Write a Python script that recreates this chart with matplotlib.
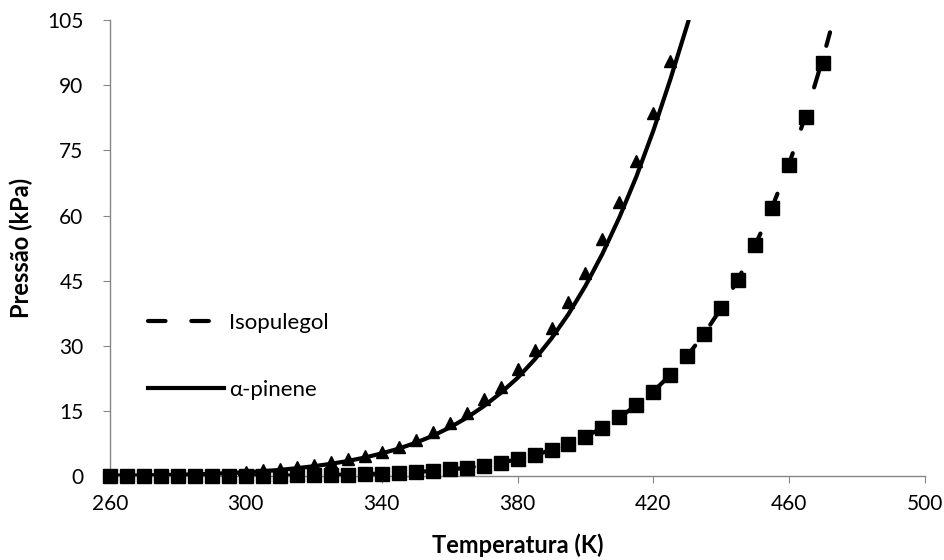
#!/usr/bin/env python3
"""Vapour pressure curves: Isopulegol and alpha-pinene."""
import matplotlib
matplotlib.use('Agg')
import matplotlib.pyplot as plt
import numpy as np

plt.rcParams.update({
    'font.family': ['Lato', 'DejaVu Sans'], 'font.size': 15,
})

# experimental points (K, kPa)
T_iso = np.arange(260, 471, 5)
P_iso = [0.003, 0.005, 0.007, 0.01, 0.015, 0.02, 0.03, 0.04, 0.05, 0.07,
         0.1, 0.13, 0.18, 0.24, 0.32, 0.42, 0.55, 0.7, 0.9, 1.2,
         1.5, 1.9, 2.4, 3.0, 3.9, 4.8, 6.0, 7.4, 9.0, 11.1,
         13.6, 16.3, 19.4, 23.3, 27.6, 32.7, 38.6, 45.2, 53.1, 61.7,
         71.6, 82.7, 95.2]

T_pin = np.arange(300, 426, 5)
P_pin = [1.0, 1.3, 1.65, 2.05, 2.55, 3.15, 3.9, 4.7, 5.6, 6.7,
         8.3, 10.2, 12.1, 14.4, 17.7, 20.6, 24.7, 29.1, 34.2, 40.1,
         46.8, 54.5, 63.2, 72.6, 83.6, 95.6]

# model curves
T_iso_fit = list(range(260, 471, 5)) + [472]
P_iso_fit = [0.003, 0.005, 0.007, 0.01, 0.015, 0.02, 0.03, 0.04, 0.05, 0.07,
             0.1, 0.13, 0.18, 0.24, 0.32, 0.42, 0.55, 0.7, 0.92, 1.18,
             1.5, 1.9, 2.4, 3.05, 3.85, 4.8, 6.0, 7.4, 9.1, 11.1,
             13.5, 16.3, 19.5, 23.3, 27.7, 32.8, 38.7, 45.4, 53.2, 62.0,
             72.0, 83.5, 96.5, 102.2]

T_pin_fit = np.arange(260, 436, 5)
P_pin_fit = [0.08, 0.11, 0.15, 0.21, 0.29, 0.38, 0.5, 0.66, 0.85, 1.1,
             1.4, 1.8, 2.25, 2.8, 3.45, 4.25, 5.2, 6.3, 7.65, 9.25,
             11.15, 13.4, 16.05, 19.1, 22.6, 26.8, 31.7, 37.3, 43.8, 51.2,
             59.6, 69.0, 79.6, 91.4, 104.0, 117.5]

fig = plt.figure(figsize=(9.44, 5.6), dpi=100)
ax = fig.add_axes([0.1165, 0.15, 0.8635, 0.814])

ax.plot(T_iso_fit, P_iso_fit, color='black', lw=3, ls=(0, (4.2, 6.2)),
        dash_capstyle='round', label='Isopulegol', zorder=3)
ax.plot(T_pin_fit, P_pin_fit, color='black', lw=3, label='α-pinene', zorder=3)
ax.plot(T_pin, P_pin, ls='none', marker='^', ms=8, color='black', zorder=4,
        clip_on=False)
ax.plot(T_iso, P_iso, ls='none', marker='s', ms=10.5, color='black', zorder=5,
        clip_on=False)

ax.set_xlim(260, 500)
ax.set_ylim(0, 105)
ax.set_xticks(np.arange(260, 501, 40))
ax.set_yticks(np.arange(0, 106, 15))
for s in ['top', 'right']:
    ax.spines[s].set_visible(False)
for s in ['left', 'bottom']:
    ax.spines[s].set_color('#868686')
    ax.spines[s].set_linewidth(1.0)
ax.tick_params(direction='out', length=5, color='#868686', pad=8, labelsize=15)
ax.tick_params(axis='y', pad=14)

ax.set_xlabel('Temperatura (K)', fontweight='bold', fontsize=17, labelpad=14)
ax.set_ylabel('Pressão (kPa)', fontweight='bold', fontsize=17, labelpad=10)

ax.legend(loc='center left', bbox_to_anchor=(0.047, 0.262), frameon=False,
          borderpad=0, borderaxespad=0, handlelength=3.4, handletextpad=0.25,
          labelspacing=2.1, fontsize=16)

fig.savefig('out.png', dpi=100)
